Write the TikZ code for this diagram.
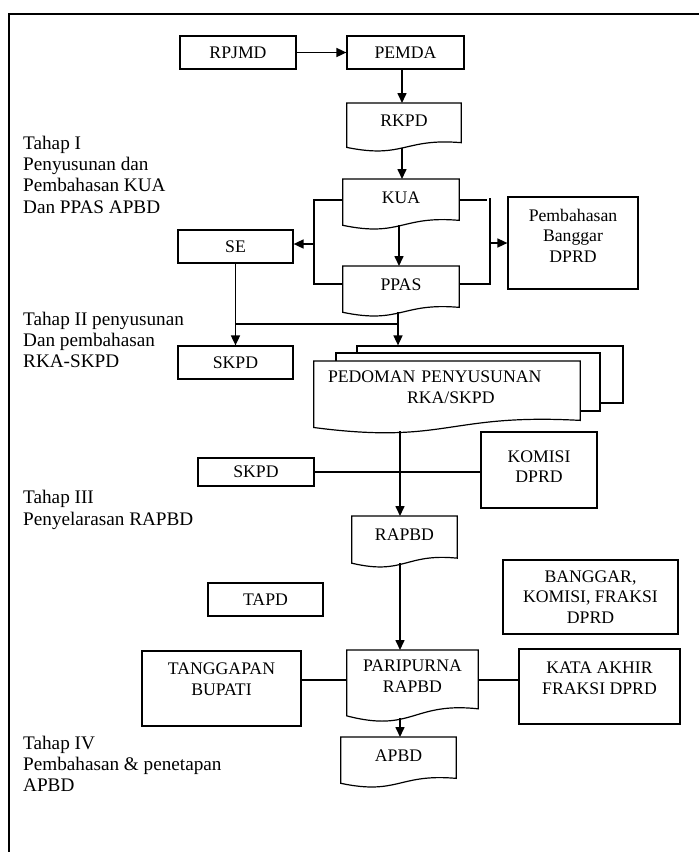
\documentclass[tikz,border=0pt]{standalone}
\usepackage{fontspec}
\setmainfont{Liberation Serif}
\usetikzlibrary{arrows.meta,calc,backgrounds}
\newcommand{\bxfont}{\fontsize{17.7}{20.5}\selectfont}
\newcommand{\lbfont}{\fontsize{19.2}{21.3}\selectfont}
\newcommand{\dnr}[1]{\rule[-#1pt]{0pt}{0pt}}
\newcommand{\docout}[2][]{\draw[boxline,#1] (#2.north west) -- (#2.north east) -- ($(#2.north east)!1.127!(#2.south east)$) .. controls ($(#2.north)!0.988!(#2.south)$) and ($(#2.north)!1.592!(#2.south)$) .. ($(#2.north west)!1.262!(#2.south west)$) -- cycle;}
\begin{document}
\begin{tikzpicture}[x=1pt,y=-1pt,
  boxline/.style={draw=black,line width=1.2pt},
  bx/.style={boxline, inner sep=0pt, align=center, font=\bxfont},
  dc/.style={inner sep=0pt, align=center, font=\bxfont, anchor=north},
  lb/.style={inner sep=0pt, align=left, anchor=base west, font=\lbfont},
  ln/.style={line width=1.6pt},
  arr/.style={ln, -{Triangle[length=10pt,width=9pt]}}
]
\useasboundingbox (0,0) rectangle (699,852);
\draw[line width=1.4pt] (9,852) -- (9,14) -- (699,14);

% labels (anchored at the baseline of their last line)
\node[lb] (l1) at (23,213.2) {Tahap I\\Penyusunan dan\\Pembahasan KUA\\Dan PPAS APBD};
\node[lb] (l2) at (23,367.6) {Tahap II penyusunan\\Dan pembahasan\\RKA-SKPD};
\node[lb] (l3) at (23,525) {Tahap III\\Penyelarasan RAPBD};
\node[lb] (l4) at (23,791.6) {Tahap IV\\Pembahasan \& penetapan\\APBD};

% boxes
\node[bx,minimum width=116pt,minimum height=33pt] (rpjmd) at (238,52.5) {RPJMD};
\node[bx,minimum width=117pt,minimum height=33pt] (pemda) at (405.5,52.5) {PEMDA};
\node[dc,minimum width=114pt,minimum height=34.8pt] (rkpd) at (404,103) {RKPD};
\docout{rkpd}
\node[dc,minimum width=116pt,minimum height=36.3pt] (kua) at (401,179) {KUA};
\docout{kua}
\node[dc,minimum width=116pt,minimum height=36.3pt] (ppas) at (401,266) {PPAS};
\docout{ppas}
\node[bx,minimum width=115pt,minimum height=33pt] (se) at (235.5,246.5) {SE};
\node[bx,minimum width=130pt,minimum height=92pt] (pemb) at (573,243) {Pembahasan\\Banggar\\DPRD\dnr{15}};
\node[bx,minimum width=115pt,minimum height=33pt] (skpda) at (235.5,362.5) {SKPD};

\node[dc,minimum width=266pt,minimum height=52.3pt,text width=238pt,align=left] (ped) at (447,361) {PEDOMAN PENYUSUNAN\\\hspace*{79pt}RKA/SKPD};
\begin{pgfonlayer}{background}
\node[boxline,fill=white,inner sep=0pt,minimum width=266pt,minimum height=57pt] (pgb) at (490,374.5) {};
\node[boxline,fill=white,inner sep=0pt,minimum width=264pt,minimum height=58pt] (pgm) at (468,382) {};
\docout[fill=white]{ped}
\end{pgfonlayer}

\node[bx,minimum width=116pt,minimum height=28pt] (skpdb) at (256,472) {SKPD};
\node[bx,minimum width=116pt,minimum height=76pt] (komisi) at (539,470) {KOMISI\\DPRD\dnr{7}};
\node[dc,minimum width=105pt,minimum height=37pt] (rapbd) at (404.5,516) {RAPBD};
\docout{rapbd}
\node[bx,minimum width=115pt,minimum height=33pt] (tapd) at (265.5,599.5) {TAPD};
\node[bx,minimum width=175pt,minimum height=74pt] (banggar) at (590.5,597) {BANGGAR,\\KOMISI, FRAKSI\\DPRD};
\node[bx,minimum width=159pt,minimum height=75pt] (tang) at (221.5,688.5) {TANGGAPAN\\BUPATI\dnr{19}};
\node[dc,minimum width=131pt,minimum height=51.8pt] (pari) at (412.5,650) {PARIPURNA\\RAPBD};
\docout{pari}
\node[bx,minimum width=161pt,minimum height=75pt] (kata) at (599.5,686.5) {KATA AKHIR\\FRAKSI DPRD\dnr{17}};
\node[dc,minimum width=115pt,minimum height=36.3pt] (apbd) at (398.5,737) {APBD};
\docout{apbd}

% connectors
\coordinate (ax) at (402,0);
\draw[arr] (rpjmd.east) -- (pemda.west);
\draw[arr] (pemda.south -| ax) -- (rkpd.north -| ax);
\coordinate (rkpdb) at ($(rkpd.north)!1.266!(rkpd.south)$);
\draw[arr] (rkpdb -| ax) -- (kua.north -| ax);
\coordinate (kuab) at ($(kua.north)!1.266!(kua.south)$);
\coordinate (ax2) at (399,0);
\draw[arr] (kuab -| ax2) -- (ppas.north -| ax2);

\coordinate (bl1) at (314,200);
\coordinate (bl2) at (314,284);
\coordinate (bla) at (314,244);
\draw[ln] (kua.west |- bl1) -- (bl1) -- (bl2) -- (ppas.west |- bl2);
\draw[arr] (bla) -- (se.east |- bla);
\coordinate (br1) at (487,200);
\coordinate (br2) at (490,198);
\coordinate (br3) at (490,284);
\coordinate (bra) at (490,243);
\draw[ln] (kua.east |- br1) -- (br1);
\draw[ln] (br2) -- (br3) -- (ppas.east |- br3);
\draw[arr] (bra) -- (pemb.west |- bra);

\draw[arr] (se.south) -- (skpda.north);
\coordinate (jn) at (398,324);
\coordinate (ppasb) at ($(ppas.north)!1.266!(ppas.south)$);
\draw[ln] (se.south |- jn) -- (jn);
\draw[arr] (ppasb -| jn) -- (jn) -- (jn |- pgb.north);

\coordinate (pedb) at (400,431);
\draw[arr] (pedb) -- (pedb |- rapbd.north);
\draw[ln] (skpdb.east) -- (komisi.west |- skpdb.east);
\coordinate (rapbdb) at ($(rapbd.north)!1.266!(rapbd.south)$);
\draw[arr] (rapbdb -| pedb) -- (pedb |- pari.north);
\coordinate (yl) at (0,680);
\draw[ln] (tang.east |- yl) -- (pari.west |- yl);
\draw[ln] (pari.east |- yl) -- (kata.west |- yl);
\coordinate (parib) at (400,718);
\draw[arr] (parib) -- (parib |- apbd.north);
\end{tikzpicture}
\end{document}
